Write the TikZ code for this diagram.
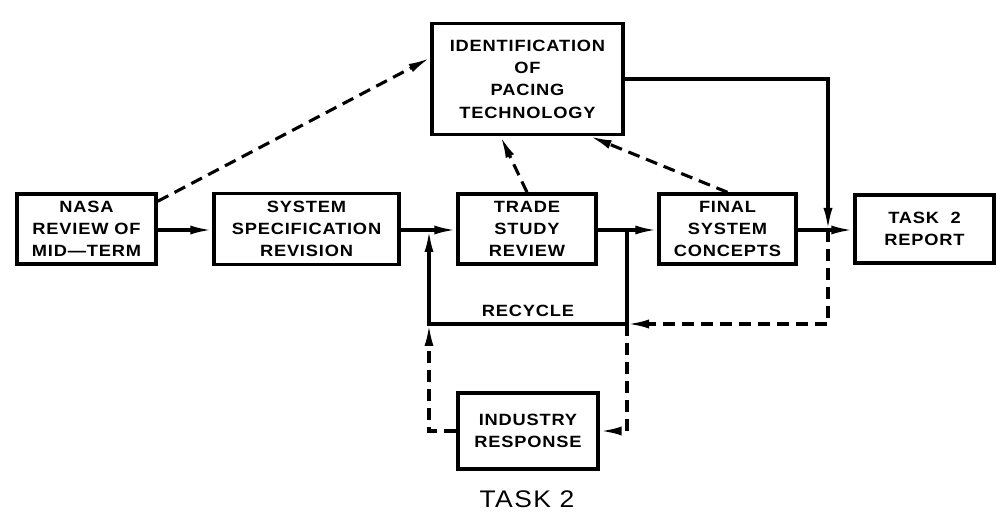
\documentclass[tikz,border=0pt]{standalone}
\usepackage{fontspec}
\setmainfont{Liberation Sans}
\newfontfamily\boxfont{Liberation Sans}[FakeStretch=1.12, LetterSpace=5]
\newfontfamily\titlefont{Liberation Sans}[FakeStretch=1.1, LetterSpace=6]
\usetikzlibrary{arrows.meta,calc}
\tikzset{
  box/.style={draw, line width=3.4pt, align=center, inner sep=0pt,
    font=\boxfont\bfseries\fontsize{16.3}{22.3}\selectfont},
  link/.style={line width=3.1pt},
  arr/.style={link, -{Latex[length=22pt,width=9pt]}},
  dashlink/.style={dash pattern=on 12pt off 7pt},
}
\begin{document}
\begin{tikzpicture}[x=1pt,y=-1pt]
\useasboundingbox (0,0) rectangle (1005,513);

% process boxes
\node[box, minimum width=139pt, minimum height=70pt] (nasa)   at (86.5,229)  {NASA\\REVIEW OF\\MID—TERM};
\node[box, minimum width=185pt, minimum height=71pt] (sys)    at (306.5,229) {SYSTEM\\SPECIFICATION\\REVISION};
\node[box, minimum width=138pt, minimum height=70pt] (trade)  at (527,229)   {TRADE\\STUDY\\REVIEW};
\node[box, minimum width=137pt, minimum height=70pt] (final)  at (727.5,229) {FINAL\\SYSTEM\\CONCEPTS};
\node[box, minimum width=139pt, minimum height=68pt] (report) at (924.5,229) {TASK\hspace{0.7em}2\\REPORT};
\node[box, minimum width=191pt, minimum height=111pt] (ident) at (527.5,79)  {IDENTIFICATION\\OF\\PACING\\TECHNOLOGY};
\node[box, minimum width=140pt, minimum height=76pt] (ind)    at (528,431)   {INDUSTRY\\RESPONSE};

\node[font=\titlefont\fontsize{24}{26}\selectfont] (title) at (527,499) {TASK 2};

% junction points on the main line and the recycle loop
\coordinate (jL) at (429,230);
\coordinate (jR) at (627,230);
\coordinate (jF) at (828,230);
\coordinate (rL) at (429,324);
\coordinate (rR) at (627,324);

% main flow
\draw[arr] (nasa.east |- jL) -- (sys.west |- jL);
\draw[link] (sys.east |- jL) -- (jL);
\draw[arr] (jL) -- (trade.west |- jL);
\draw[link] (trade.east |- jR) -- (jR);
\draw[arr] (jR) -- (final.west |- jR);
\draw[link] (final.east |- jF) -- (jF);
\draw[arr] (jF) -- (report.west |- jF);
\draw[arr] (ident.east) -| (jF);

% recycle loop
\draw[link] (jR) -- (rR);
\draw[arr] (rR) -- (rL) -- (jL);
\node[font=\boxfont\bfseries\fontsize{16.3}{18}\selectfont] (recycle) at (528,311) {RECYCLE};
\draw[arr, dashlink] (jF) |- (rR);

% industry response loop
\draw[arr, dashlink] (rR) |- (ind.east);
\draw[arr, dashlink] (ind.west) -| (rL);

% feeds into pacing technology
\coordinate (nasaOut) at ($(nasa.north east)+(0,9)$);
\coordinate (identIn) at ($(ident.north west)+(0,36)$);
\draw[arr, dashlink] (nasaOut) -- (identIn);
\draw[arr, dashlink] (trade.north) -- ($(ident.south)+(-27,0)$);
\draw[arr, dashlink] (final.north) -- ($(ident.south east)+(-35,0)$);
\end{tikzpicture}
\end{document}
